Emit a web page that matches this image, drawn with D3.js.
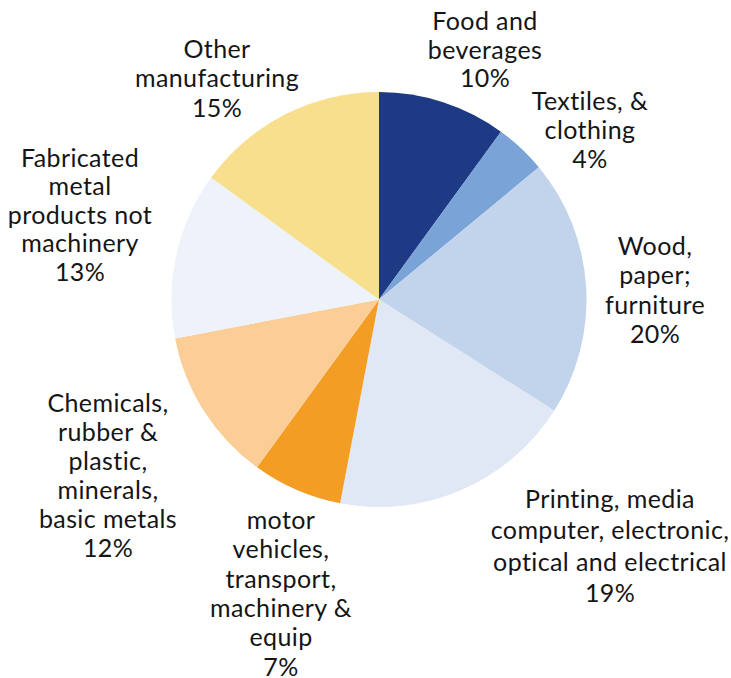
<!DOCTYPE html>
<html>
<head>
<meta charset="utf-8">
<script src="https://cdn.jsdelivr.net/npm/d3@7"></script>
<style>
  html, body { margin: 0; padding: 0; background: #fff; }
  svg { display: block; }
  text { font-family: Lato, "Open Sans", sans-serif; fill: #151515; }
</style>
</head>
<body>
<svg id="chart" width="731" height="678"></svg>
<script>
// Manufacturing output by sector, share of total (%), clockwise from 12 o'clock
const sectors = [
  "Food and beverages",
  "Textiles, & clothing",
  "Wood, paper; furniture",
  "Printing, media computer, electronic, optical and electrical",
  "motor vehicles, transport, machinery & equip",
  "Chemicals, rubber & plastic, minerals, basic metals",
  "Fabricated metal products not machinery",
  "Other manufacturing"
];
const shares = [10, 4, 20, 19, 7, 12, 13, 15];

// Label text broken into lines (the percentage line is added from shares)
const labelLines = [
  ["Food and", "beverages"],
  ["Textiles, &", "clothing"],
  ["Wood,", "paper;", "furniture"],
  ["Printing, media", "computer, electronic,", "optical and electrical"],
  ["motor", "vehicles,", "transport,", "machinery &", "equip"],
  ["Chemicals,", "rubber &", "plastic,", "minerals,", "basic metals"],
  ["Fabricated", "metal", "products not", "machinery"],
  ["Other", "manufacturing"]
];

const colors = ["#1f3a84", "#7aa3d7", "#c2d4ec", "#e0e8f5", "#f49d25", "#fbcd97", "#eef2fa", "#f7df8d"];

// Label block placement: centre x, first baseline y, line step
const labelLayout = [
  { x: 485, y: 30,  step: 28.5 },
  { x: 590, y: 110, step: 29 },
  { x: 655, y: 255, step: 29.3 },
  { x: 610, y: 508, step: 31.3 },
  { x: 281, y: 529, step: 29.3 },
  { x: 108, y: 412, step: 29 },
  { x: 80,  y: 167, step: 28.4 },
  { x: 217, y: 58,  step: 29.3 }
];

const cx = 379, cy = 299.5, radius = 207.5;

const data = sectors.map((name, i) => ({ name, value: shares[i], lines: labelLines[i], color: colors[i], layout: labelLayout[i] }));

const svg = d3.select("#chart");

const pie = d3.pie().sort(null).value(d => d.value).startAngle(0).endAngle(2 * Math.PI);
const arc = d3.arc().innerRadius(0).outerRadius(radius);

const g = svg.append("g").attr("transform", `translate(${cx},${cy})`);

g.selectAll("path.slice")
  .data(pie(data))
  .join("path")
  .attr("class", "slice")
  .attr("d", arc)
  .attr("fill", d => d.data.color);

const fmt = v => d3.format("d")(v) + "%";

const labels = svg.selectAll("text.label")
  .data(data)
  .join("text")
  .attr("class", "label")
  .attr("text-anchor", "middle")
  .attr("font-size", 25)
  .attr("letter-spacing", 0.4);

labels.each(function(d) {
  const t = d3.select(this);
  const lines = d.lines.concat([fmt(d.value)]);
  lines.forEach((line, j) => {
    t.append("tspan")
      .attr("x", d.layout.x)
      .attr("y", d.layout.y + j * d.layout.step)
      .text(line);
  });
});
</script>
</body>
</html>
